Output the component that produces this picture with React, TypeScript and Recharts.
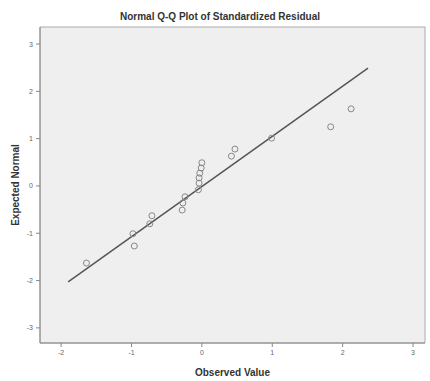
import React from 'react';
import {
  ScatterChart,
  Scatter,
  XAxis,
  YAxis,
  ReferenceArea,
  ReferenceLine,
  Label,
} from 'recharts';

// observed vs expected normal quantiles
const observed = [-1.64, -0.98, -0.96, -0.74, -0.71, -0.28, -0.27, -0.24, -0.05, -0.04, -0.04, -0.03, -0.01, 0.0, 0.42, 0.47, 0.99, 1.83, 2.12];
const expected = [-1.63, -1.01, -1.27, -0.8, -0.63, -0.51, -0.36, -0.23, -0.08, 0.06, 0.17, 0.27, 0.38, 0.49, 0.63, 0.78, 1.01, 1.25, 1.63];

// reference line ends
const lineX = [-1.9, 2.36];
const lineY = [-2.03, 2.49];

const xTicks = [-2, -1, 0, 1, 2, 3];
const yTicks = [-3, -2, -1, 0, 1, 2, 3];

const points = observed.map((x, i) => ({ x, y: expected[i] }));

const font = '"Liberation Sans", Arial, sans-serif';
const tickStyle = { fontSize: 7, fill: '#666', fontFamily: font };

const App: React.FC = () => {
  return (
    <div style={{ position: 'absolute', left: 0, top: 0, width: 430, height: 381, background: '#fff' }}>
      <div
        style={{
          position: 'absolute',
          left: 0,
          width: 440,
          top: 11,
          textAlign: 'center',
          fontFamily: font,
          fontSize: 10,
          fontWeight: 'bold',
          color: '#333',
        }}
      >
        Normal Q-Q Plot of Standardized Residual
      </div>
      <ScatterChart width={430} height={381} margin={{ top: 27, right: 5, left: 0, bottom: 0 }}>
        <XAxis
          type="number"
          dataKey="x"
          domain={[-2.3, 3.17]}
          ticks={xTicks}
          allowDataOverflow
          height={38}
          tick={tickStyle}
          tickSize={4}
          tickMargin={3}
          stroke="#888"
        >
          <Label
            value="Observed Value"
            position="insideBottom"
            offset={5}
            style={{ fontSize: 10, fontWeight: 'bold', fill: '#333', fontFamily: font }}
          />
        </XAxis>
        <YAxis
          type="number"
          dataKey="y"
          domain={[-3.32, 3.36]}
          ticks={yTicks}
          allowDataOverflow
          width={40}
          tick={tickStyle}
          tickSize={4}
          tickMargin={3}
          stroke="#888"
        >
          <Label
            value="Expected Normal"
            angle={-90}
            position="insideLeft"
            offset={15}
            style={{ fontSize: 10, fontWeight: 'bold', fill: '#333', fontFamily: font, textAnchor: 'middle' }}
          />
        </YAxis>
        <ReferenceArea x1={-2.3} x2={3.17} y1={-3.32} y2={3.36} fill="#efefef" fillOpacity={1} stroke="#aaa" />
        <ReferenceLine
          segment={[
            { x: lineX[0], y: lineY[0] },
            { x: lineX[1], y: lineY[1] },
          ]}
          stroke="#555"
          strokeWidth={1.5}
        />
        <Scatter
          data={points}
          isAnimationActive={false}
          shape={(p: any) => <circle cx={p.cx} cy={p.cy} r={3} fill="none" stroke="#888" strokeWidth={1} />}
        />
      </ScatterChart>
    </div>
  );
};

export default App;
